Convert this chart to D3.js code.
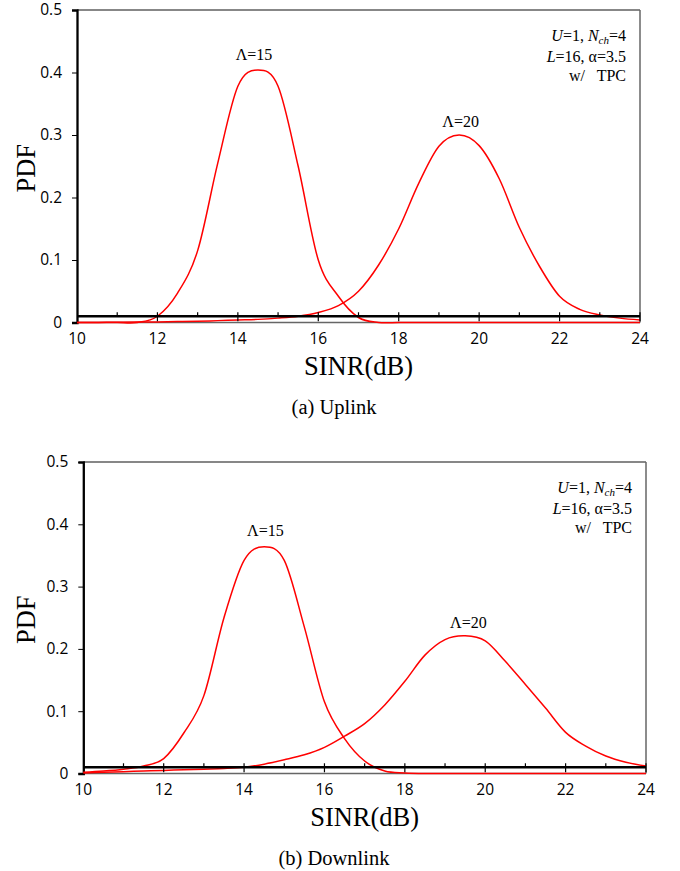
<!DOCTYPE html>
<meta charset="utf-8">
<html>
<head>
    <title>SINR PDF</title>
    <style>
        body { margin: 0; background: #fff; }
        svg text { fill: #000; }
        .tick-label { font-family: "Open Sans", sans-serif; font-size: 15.5px; fill: #000; }
        .serif { font-family: "Liberation Serif", "Times New Roman", serif; }
    </style>
    <script src="https://d3js.org/d3.v7.min.js"></script>
</head>
<body>
<div id="chart-container"></div>
<script>
    // SINR (dB) sample points, 0.5 dB apart
    const sinr = [10, 10.5, 11, 11.5, 12, 12.5, 13, 13.5, 14, 14.5, 15, 15.5, 16, 16.5, 17,
                  17.5, 18, 18.5, 19, 19.5, 20, 20.5, 21, 21.5, 22, 22.5, 23, 23.5, 24];

    // (a) uplink
    const uplink15 = [0, 0, 0, 0, 0.010, 0.047, 0.115, 0.255, 0.378, 0.404, 0.378, 0.250, 0.100, 0.042, 0.008,
                      0, 0, 0, 0, 0, 0, 0, 0, 0, 0, 0, 0, 0, 0];
    const uplink20 = [0, 0, 0.0005, 0.001, 0.001, 0.0015, 0.002, 0.003, 0.004, 0.005, 0.007, 0.010, 0.016, 0.027, 0.050,
                      0.092, 0.150, 0.223, 0.282, 0.300, 0.283, 0.230, 0.152, 0.090, 0.042, 0.021, 0.012, 0.007, 0.004];

    // (b) downlink
    const downlink15 = [0.002, 0.004, 0.007, 0.012, 0.024, 0.065, 0.125, 0.250, 0.342, 0.364, 0.342, 0.235, 0.115, 0.056, 0.020,
                        0.004, 0.001, 0, 0, 0, 0, 0, 0, 0, 0, 0, 0, 0, 0];
    const downlink20 = [0.001, 0.002, 0.003, 0.004, 0.005, 0.006, 0.007, 0.008, 0.010, 0.015, 0.022, 0.030, 0.042, 0.060, 0.080,
                        0.110, 0.148, 0.190, 0.215, 0.221, 0.213, 0.180, 0.143, 0.105, 0.066, 0.044, 0.028, 0.018, 0.012];

    const xTicks = [10, 12, 14, 16, 18, 20, 22, 24];
    const xMinorTicks = [11, 13, 15, 17, 19, 21, 23];
    const yTicks = [0, 0.1, 0.2, 0.3, 0.4, 0.5];
    const axisCross = 0.01;   // horizontal axis crosses here

    // curve labels: [text, sinr, pdf]
    const uplinkLabels = [["Λ=15", 14.40, 0.420], ["Λ=20", 19.54, 0.313]];
    const downlinkLabels = [["Λ=15", 14.53, 0.382], ["Λ=20", 19.58, 0.234]];

    const charts = [
        { series: [uplink15, uplink20], labels: uplinkLabels, caption: "(a) Uplink",
          left: 77, right: 640, top: 10, bottom: 322.5, captionY: 414 },
        { series: [downlink15, downlink20], labels: downlinkLabels, caption: "(b) Downlink",
          left: 83.3, right: 646, top: 462, bottom: 773.5, captionY: 865 }
    ];

    const svg = d3.select("#chart-container")
        .append("svg")
        .attr("width", 680)
        .attr("height", 871);

    charts.forEach(function (c) {
        var x = d3.scaleLinear().domain([10, 24]).range([c.left, c.right]);
        var y = d3.scaleLinear().domain([0, 0.5]).range([c.bottom, c.top]);

        var g = svg.append("g");

        // plot area border (top black, right/bottom grey)
        g.append("line")
            .attr("x1", c.left).attr("x2", c.right)
            .attr("y1", c.top).attr("y2", c.top)
            .attr("stroke", "#111").attr("stroke-width", 1.2);
        g.append("line")
            .attr("x1", c.right).attr("x2", c.right)
            .attr("y1", c.top).attr("y2", c.bottom)
            .attr("stroke", "#666").attr("stroke-width", 1.5);
        g.append("line")
            .attr("x1", c.left).attr("x2", c.right)
            .attr("y1", c.bottom).attr("y2", c.bottom)
            .attr("stroke", "#666").attr("stroke-width", 1.5);

        // y axis
        var yAxis = g.append("g")
            .attr("transform", "translate(" + c.left + ",0)")
            .call(d3.axisLeft(y).tickValues(yTicks).tickSize(5).tickPadding(10)
                .tickFormat(d => d === 0 ? "0" : d.toFixed(1)));
        yAxis.select(".domain").attr("stroke", "#000").attr("stroke-width", 2.3);
        yAxis.selectAll(".tick line").attr("stroke", "#000").attr("stroke-width", 1);
        yAxis.selectAll(".tick text").attr("class", "tick-label").attr("fill", null);

        // x tick labels along the bottom
        g.append("g")
            .selectAll("text")
            .data(xTicks)
            .enter().append("text")
            .attr("class", "tick-label")
            .attr("x", d => x(d))
            .attr("y", c.bottom + 21.5)
            .attr("text-anchor", "middle")
            .text(d => d);

        // red curves
        var line = d3.line()
            .x((d, i) => x(sinr[i]))
            .y(d => y(d))
            .curve(d3.curveCardinal.tension(0));

        g.append("g")
            .selectAll("path")
            .data(c.series)
            .enter().append("path")
            .attr("d", line)
            .attr("fill", "none")
            .attr("stroke", "#ff0000")
            .attr("stroke-width", 1.5);

        // horizontal axis at 0.01 with its ticks
        var yc = y(axisCross);
        g.append("line")
            .attr("x1", c.left).attr("x2", c.right)
            .attr("y1", yc).attr("y2", yc)
            .attr("stroke", "#000").attr("stroke-width", 2.6);
        g.append("g")
            .selectAll("line")
            .data(xTicks.slice(1))
            .enter().append("line")
            .attr("x1", d => x(d)).attr("x2", d => x(d))
            .attr("y1", yc - 4).attr("y2", yc + 5)
            .attr("stroke", "#000").attr("stroke-width", 1.2);
        g.append("g")
            .selectAll("line")
            .data(xMinorTicks)
            .enter().append("line")
            .attr("x1", d => x(d)).attr("x2", d => x(d))
            .attr("y1", yc - 4).attr("y2", yc)
            .attr("stroke", "#000").attr("stroke-width", 1.2);

        // curve labels
        g.append("g")
            .selectAll("text")
            .data(c.labels)
            .enter().append("text")
            .attr("class", "serif")
            .attr("x", d => x(d[1]))
            .attr("y", d => y(d[2]))
            .attr("text-anchor", "middle")
            .style("font-size", "16px")
            .text(d => d[0]);

        // parameter box, top right
        var note = g.append("text")
            .attr("class", "serif")
            .attr("text-anchor", "end")
            .style("font-size", "16px");
        var l1 = note.append("tspan").attr("x", c.right - 14).attr("y", c.top + 30.5);
        l1.append("tspan").style("font-style", "italic").text("U");
        l1.append("tspan").text("=1, ");
        l1.append("tspan").style("font-style", "italic").text("N");
        l1.append("tspan").style("font-style", "italic").style("font-size", "11px")
            .attr("dy", 3).text("ch");
        l1.append("tspan").attr("dy", -3).text("=4");
        var l2 = note.append("tspan").attr("x", c.right - 14).attr("y", c.top + 52);
        l2.append("tspan").style("font-style", "italic").text("L");
        l2.append("tspan").text("=16, α=3.5");
        note.append("tspan").attr("x", c.right - 14).attr("y", c.top + 71)
            .attr("xml:space", "preserve").style("white-space", "pre")
            .text("w/   TPC");

        // axis titles
        g.append("text")
            .attr("class", "serif")
            .attr("x", (c.left + c.right) / 2)
            .attr("y", c.bottom + 52.5)
            .attr("text-anchor", "middle")
            .style("font-size", "26.5px")
            .text("SINR(dB)");

        g.append("text")
            .attr("class", "serif")
            .attr("transform", "translate(35," + ((c.top + c.bottom) / 2 + 2) + ") rotate(-90)")
            .attr("text-anchor", "middle")
            .style("font-size", "26.5px")
            .text("PDF");

        // caption
        g.append("text")
            .attr("class", "serif")
            .attr("x", 334)
            .attr("y", c.captionY)
            .attr("text-anchor", "middle")
            .style("font-size", "20.5px")
            .text(c.caption);
    });
</script>
</body>
</html>
